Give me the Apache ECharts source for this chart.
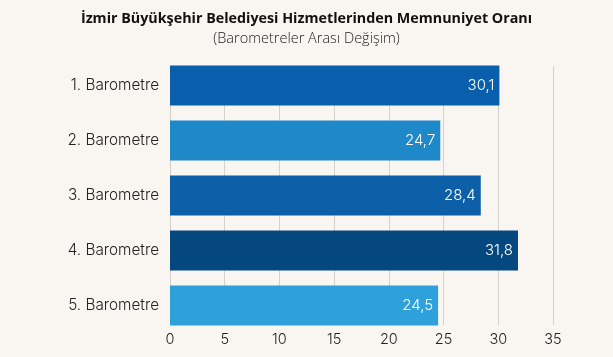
<!DOCTYPE html>
<html><head><meta charset="utf-8">
<script src="https://cdn.jsdelivr.net/npm/echarts@6/dist/echarts.min.js"></script>
<style>html,body{margin:0;padding:0;background:#f9f5f1;}#c{width:613px;height:357px;}</style>
</head><body><div id="c"></div>
<script>
const categories = ['1. Barometre','2. Barometre','3. Barometre','4. Barometre','5. Barometre'];
const values = [30.1, 24.7, 28.4, 31.8, 24.5];
const barColors = ['#0a5fad','#1e88c8','#0d60a8','#04487f','#2ea1da'];
const xTicks = [0,5,10,15,20,25,30,35];

const chart = echarts.init(document.getElementById('c'));
chart.setOption({
  backgroundColor: '#f9f5f1',
  animation: false,
  title: {
    text: 'İzmir Büyükşehir Belediyesi Hizmetlerinden Memnuniyet Oranı',
    subtext: '(Barometreler Arası Değişim)',
    left: 'center', top: 7, itemGap: 5,
    textStyle: {fontFamily: 'Open Sans', fontWeight: 'bold', fontSize: 14.3, color: '#111'},
    subtextStyle: {fontFamily: 'Open Sans', fontWeight: 300, fontSize: 14.5, color: '#222'}
  },
  grid: [
    {left: 170, right: 60, top: 58, height: 275},
    {left: 170, right: 60, top: 66, bottom: 32}
  ],
  xAxis: [
    {gridIndex: 0, type: 'value', min: 0, max: 35, show: false},
    {gridIndex: 1, type: 'value', min: 0, max: 35, interval: 5,
     axisLine: {show: false}, axisTick: {show: false},
     splitLine: {show: true, lineStyle: {color: '#d6d0cb', width: 1}},
     axisLabel: {margin: 7, fontFamily: 'Inter', fontWeight: 300, fontSize: 14.5, color: '#222',
       formatter: v => xTicks.includes(v) ? String(v) : ''}}
  ],
  yAxis: [
    {gridIndex: 0, type: 'category', data: categories, inverse: true,
     axisLine: {show: false}, axisTick: {show: false},
     axisLabel: {margin: 11, fontFamily: 'Inter', fontWeight: 300, fontSize: 15.3, color: '#222'}},
    {gridIndex: 1, type: 'category', data: categories, show: false}
  ],
  series: [{
    type: 'bar', xAxisIndex: 0, yAxisIndex: 0, barWidth: 40,
    data: values.map((v, i) => ({value: v, itemStyle: {color: barColors[i]}})),
    label: {show: true, position: 'insideRight', distance: 5, color: '#fff',
      fontFamily: 'Inter', fontWeight: 300, fontSize: 15, formatter: p => String(p.value).replace('.', ',')}
  }]
});
</script></body></html>
